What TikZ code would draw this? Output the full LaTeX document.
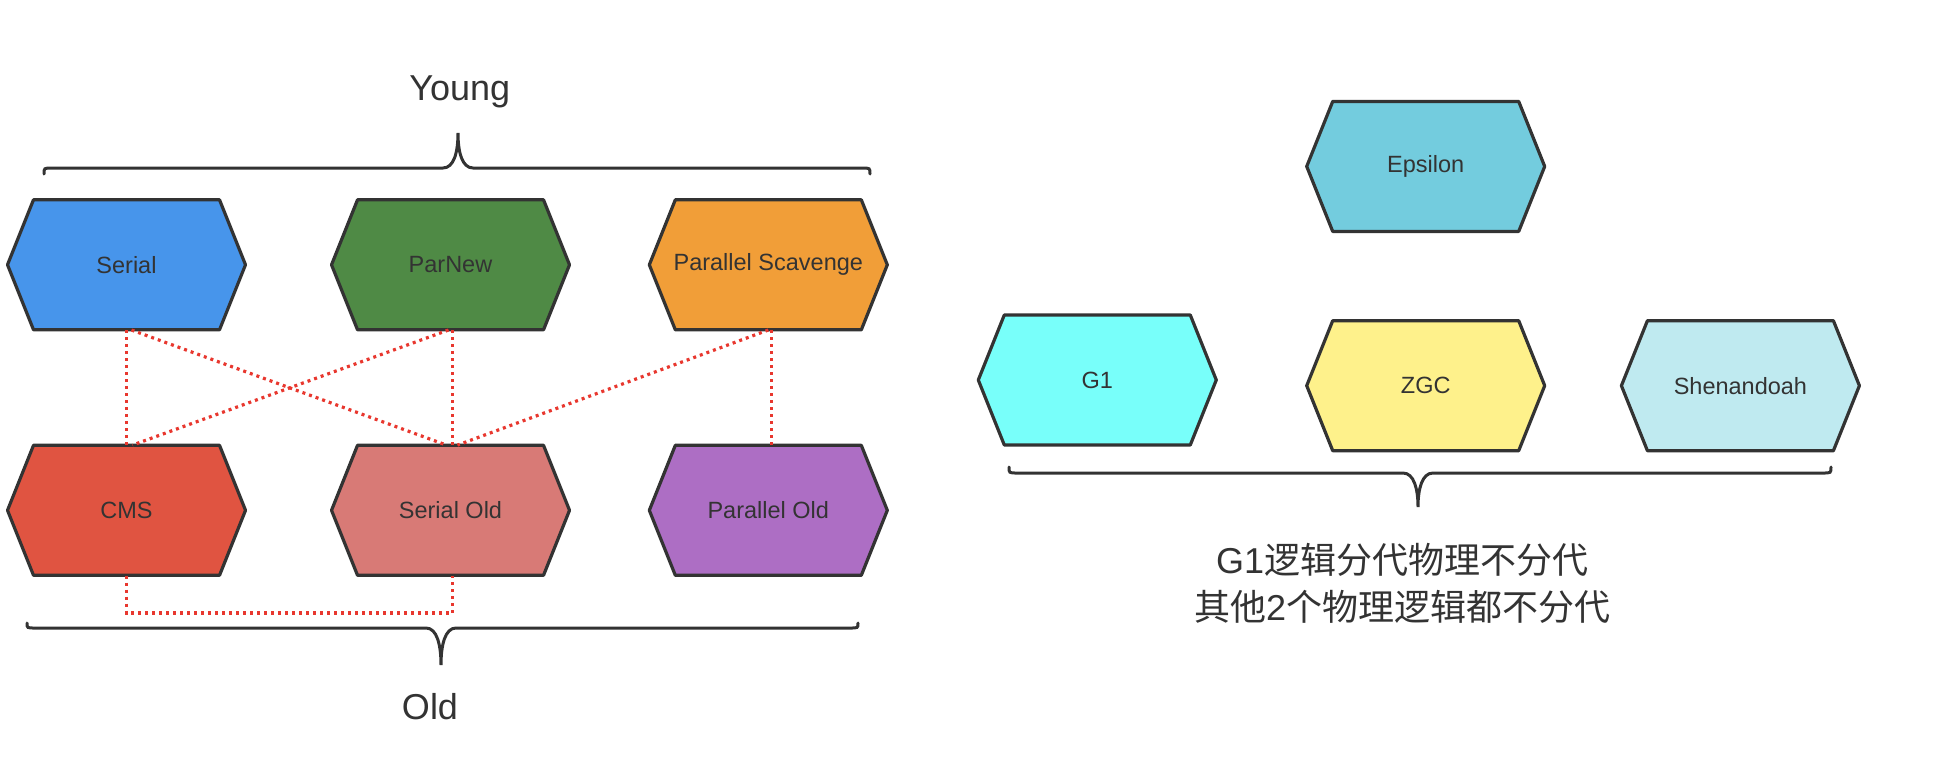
\documentclass[tikz,border=0pt]{standalone}
\usepackage{fontspec}
\setmainfont{Liberation Sans}
\newfontfamily\cjk{Noto Sans CJK SC}
\newfontfamily\latinpart{Liberation Sans}
\begin{document}
\begin{tikzpicture}[x=1pt,y=-1pt,
  hexline/.style={draw=black!80, line width=3.2pt, line join=round},
  hextext/.style={minimum width=240pt, minimum height=130pt, inner sep=0pt, text=black!80, font=\fontsize{23.5}{28}\selectfont},
  bracestyle/.style={draw=black!80, line width=3pt, line cap=round},
  label/.style={text=black!80, font=\fontsize{36}{44}\selectfont, inner sep=0pt}]
\definecolor{cSerial}{HTML}{4795EB}
\definecolor{cParNew}{HTML}{4F8A45}
\definecolor{cPS}{HTML}{F19E38}
\definecolor{cCMS}{HTML}{E05441}
\definecolor{cSOld}{HTML}{D87A76}
\definecolor{cPOld}{HTML}{AD6EC4}
\definecolor{cEps}{HTML}{73CCDE}
\definecolor{cGone}{HTML}{78FFFA}
\definecolor{cZGC}{HTML}{FEF18B}
\definecolor{cShen}{HTML}{BFEAF0}
\definecolor{dotred}{HTML}{E8372E}
\tikzset{dotline/.style={draw=dotred, line width=3.2pt, dash pattern=on 3pt off 4pt}}
\useasboundingbox (0,0) rectangle (1954,772);
\newcommand{\hexbox}[5]{%
  \draw[hexline,fill=#4] (#2-119,#3) -- (#2-93,#3-65) -- (#2+93,#3-65) -- (#2+119,#3) -- (#2+93,#3+65) -- (#2-93,#3+65) -- cycle;
  \node[hextext] (#1) at (#2,#3) {#5};}
% left group
\hexbox{serial}{126.5}{264.8}{cSerial}{Serial}
\hexbox{parnew}{450.5}{264.8}{cParNew}{ParNew}
\hexbox{ps}{768.3}{264.8}{cPS}{Parallel Scavenge}
\hexbox{cms}{126.5}{510.3}{cCMS}{CMS}
\hexbox{sold}{450.5}{510.3}{cSOld}{Serial Old}
\hexbox{pold}{768.3}{510.3}{cPOld}{Parallel Old}
% right group
\hexbox{eps}{1425.7}{166.4}{cEps}{Epsilon}
\hexbox{gone}{1097.3}{380}{cGone}{G1}
\hexbox{zgc}{1425.7}{385.7}{cZGC}{ZGC}
\hexbox{shen}{1740.4}{385.7}{cShen}{Shenandoah}
% dotted connectors
\draw[dotline] (serial.south) -- (cms.north);
\draw[dotline] ([xshift=5pt]serial.south) -- ([xshift=-4pt]sold.north);
\draw[dotline] ([xshift=-2pt]parnew.south) -- ([xshift=6pt]cms.north);
\draw[dotline] ([xshift=2pt]parnew.south) -- ([xshift=2pt]sold.north);
\draw[dotline] (ps.south) -- ([xshift=7pt]sold.north);
\draw[dotline] ([xshift=3pt]ps.south) -- ([xshift=3pt]pold.north);
\draw[dotline] (cms.south) -- (cms.south |- 0,613) -| ([xshift=2pt]sold.south);
% labels
\node[label] (young) at (459.8,92) {Young};
\node[label] (old) at (430,707) {Old};
\node[label, align=center, font=\cjk\fontsize{36}{47}\selectfont] (note) at (1402,583) {{\latinpart G1}逻辑分代物理不分代\\其他{\latinpart 2}个物理逻辑都不分代};
% braces
\draw[bracestyle] (44,174) .. controls (44,168) .. (52,168) -- (443,168) .. controls (454,168) and (458,152) .. (458,133) .. controls (458,152) and (462,168) .. (473,168) -- (862,168) .. controls (870,168) .. (870,174);
\draw[bracestyle] (27,623) .. controls (27,628) .. (35,628) -- (426,628) .. controls (437,628) and (441,645) .. (441,665) .. controls (441,645) and (445,628) .. (456,628) -- (850,628) .. controls (858,628) .. (858,623);
\draw[bracestyle] (1009,467) .. controls (1009,473) .. (1017,473) -- (1403,473) .. controls (1414,473) and (1418,489) .. (1418,507) .. controls (1418,489) and (1422,473) .. (1433,473) -- (1823,473) .. controls (1831,473) .. (1831,467);
\end{tikzpicture}
\end{document}
